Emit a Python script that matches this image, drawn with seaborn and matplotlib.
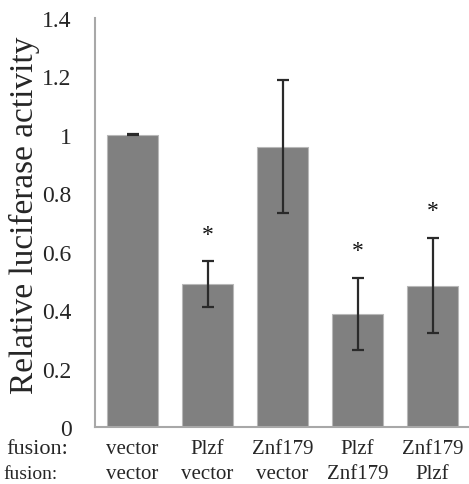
import matplotlib
matplotlib.use("Agg")
import matplotlib.pyplot as plt
import matplotlib.transforms as mtransforms
import seaborn as sns
import pandas as pd
import numpy as np

row1 = ["vector", "Plzf", "Znf179", "Plzf", "Znf179"]
row2 = ["vector", "vector", "vector", "Znf179", "Plzf"]
values = [1.0, 0.489, 0.96, 0.388, 0.484]
errors = [0.002, 0.078, 0.229, 0.123, 0.163]
stars = ["", "*", "", "*", "*"]
star_y = [None, 0.66, None, 0.605, 0.74]
yticks = [0, 0.2, 0.4, 0.6, 0.8, 1, 1.2, 1.4]
ytick_labels = ["0", "0.2", "0.4", "0.6", "0.8", "1", "1.2", "1.4"]

sns.set_theme(style="white")
plt.rcParams["font.family"] = ["Liberation Serif", "DejaVu Serif"]

df = pd.DataFrame({"group": row1, "value": values, "pos": range(len(values))})
df["key"] = [f"{a}|{b}" for a, b in zip(row1, row2)]

fig = plt.figure(figsize=(4.69, 4.85), dpi=100)
ax = fig.add_axes([95 / 469, 57 / 485, 375 / 469, 409 / 485])

sns.barplot(data=df, x="key", y="value", color="#808080", width=0.67,
            edgecolor="#b8b8b8", linewidth=0.8, saturation=1, errorbar=None, ax=ax)
ax.errorbar(np.arange(len(values)), values, yerr=errors, fmt="none",
            ecolor="#2a2a2a", elinewidth=1.6, capsize=4.5, capthick=1.6, zorder=5)
for i, (s, y) in enumerate(zip(stars, star_y)):
    if s:
        ax.text(i, y, s, ha="center", va="center", fontsize=17, color="#111111")

ax.set_xlim(-0.5, 4.5)
ax.set_ylim(0, 1.4)
ax.set_yticks(yticks)
ax.set_yticklabels(ytick_labels, fontsize=17)
ax.set_xticks(range(len(row1)))
ax.set_xticklabels([])
ax.set_xlabel("")
ax.set_ylabel("Relative luciferase activity", fontsize=24)
ax.yaxis.set_label_coords(-0.148, 0.52)

# two rows of category labels
trans = mtransforms.blended_transform_factory(ax.transData, fig.transFigure)
for i, (a, b) in enumerate(zip(row1, row2)):
    ax.text(i, 1 - 450 / 485, a, transform=trans, ha="center", va="center", fontsize=15)
    ax.text(i, 1 - 475 / 485, b, transform=trans, ha="center", va="center", fontsize=15)
fig.text(68 / 469, 1 - 450 / 485, "fusion:", ha="right", va="center", fontsize=16)
fig.text(58 / 469, 1 - 475 / 485, "fusion:", ha="right", va="center", fontsize=14)

for side in ["top", "right"]:
    ax.spines[side].set_visible(False)
for side in ["left", "bottom"]:
    ax.spines[side].set_color("#a8a8a8")
    ax.spines[side].set_linewidth(1.5)
ax.tick_params(axis="y", direction="inout", length=8, width=1.2, color="#a8a8a8", pad=13)
ax.tick_params(axis="x", direction="out", length=2, width=1.0, color="#c8c8c8")
ax.set_xticks(np.arange(-0.5, 4.6, 1.0), minor=True)
ax.tick_params(axis="x", which="minor", direction="out", length=2, width=1.0, color="#c8c8c8")

fig.savefig("out.png", dpi=100)
